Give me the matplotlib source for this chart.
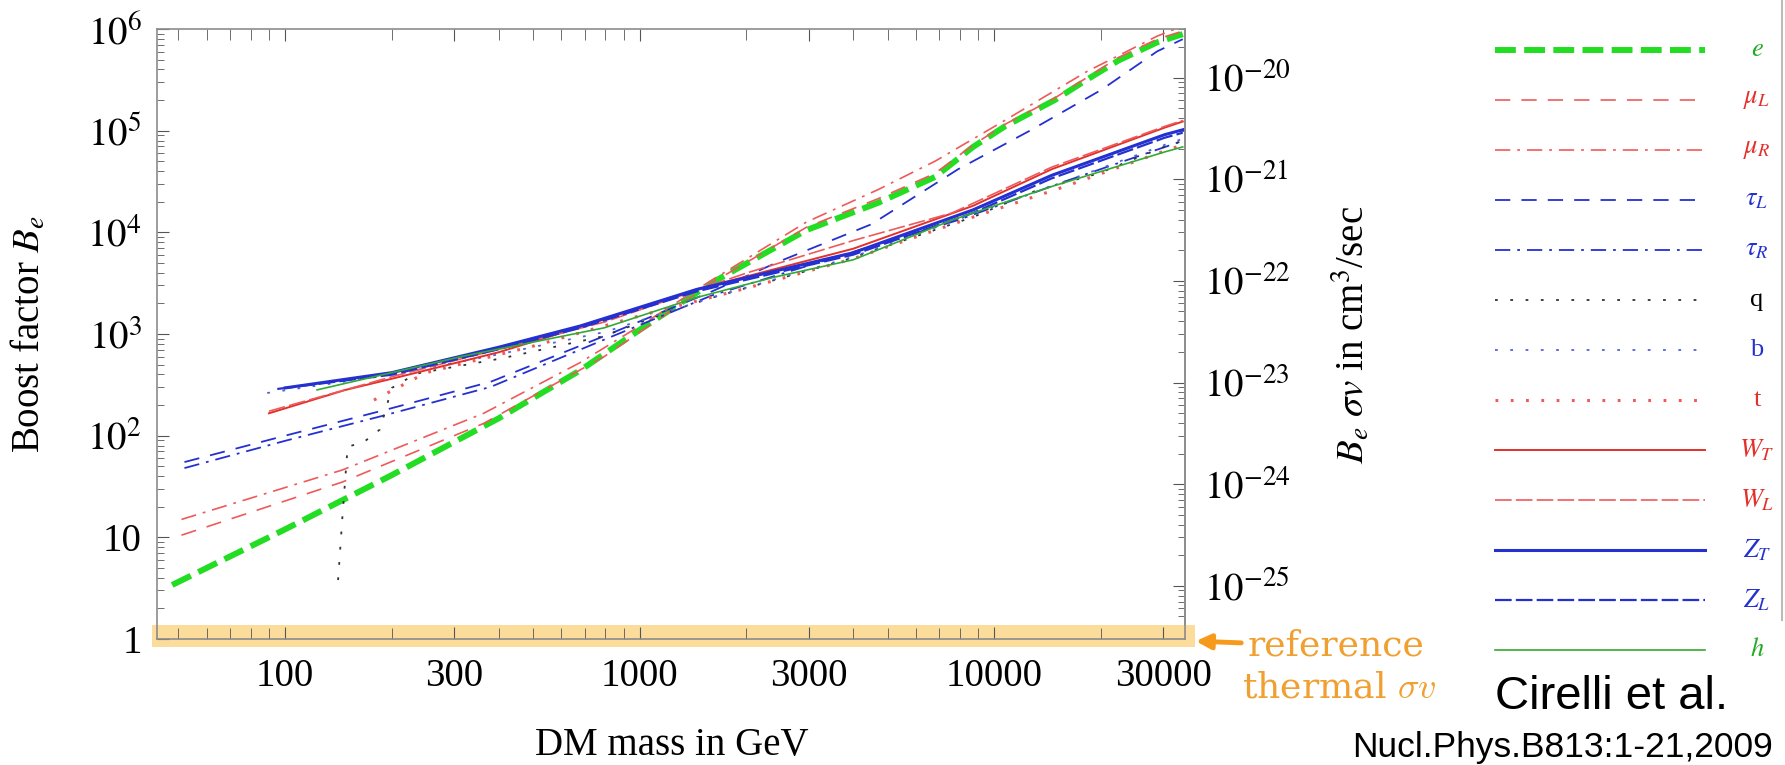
import matplotlib
matplotlib.use("Agg")
import matplotlib.pyplot as plt
from matplotlib.lines import Line2D
from matplotlib.ticker import NullFormatter

plt.rcParams['font.family'] = ['Liberation Serif', 'DejaVu Serif']
plt.rcParams['mathtext.fontset'] = 'stix'
plt.rcParams['lines.scale_dashes'] = False

# DM mass (GeV) and boost factor B_e
e_m = [48, 100, 200, 400, 680, 1000, 1600, 2950, 4700, 6800, 8700, 10700, 14800, 18200, 22400, 28800, 34000]
e_b = [3.4, 12, 41, 148, 440, 1100, 3200, 10500, 19500, 35000, 69000, 110000, 200000, 316000, 490000, 740000, 890000]

muL_m = [51, 145, 363, 794, 1600, 2950, 4700, 6800, 8700, 10700, 14800, 18200, 22400, 28800, 34000]
muL_b = [10.5, 35, 132, 600, 3200, 11200, 21400, 38000, 72000, 115000, 209000, 331000, 525000, 794000, 955000]

muR_m = [51, 145, 363, 680, 1000, 1600, 2950, 4700, 6800, 10700, 18200, 28800, 34000]
muR_b = [15, 46, 166, 525, 1200, 3400, 12600, 26300, 50000, 126000, 380000, 851000, 1070000]

tauL_m = [52, 100, 190, 380, 850, 1600, 2500, 4500, 7900, 12600, 20000, 28800, 34000]
tauL_b = [55, 100, 178, 339, 1050, 2630, 5250, 12000, 41700, 100000, 251000, 603000, 794000]

tauR_m = [52, 100, 190, 380, 800, 1600, 3160, 7900, 15800, 34000]
tauR_b = [48, 89, 158, 302, 890, 2400, 5000, 13200, 31600, 79400]

q_m = [141, 145, 150, 167, 185, 200, 234, 407, 794, 1210, 1610, 2820, 3830, 8690, 13100, 19700, 30100, 34000]
q_b = [3.8, 15.8, 77.6, 87.1, 115, 295, 407, 575, 955, 1660, 2290, 3980, 5370, 14100, 25700, 38000, 69200, 79400]

b_m = [89, 200, 400, 800, 1600, 4000, 8700, 15800, 30200, 34000]
b_b = [263, 398, 631, 1050, 2290, 5750, 15100, 31600, 72400, 83200]

t_m = [178, 250, 500, 1000, 2000, 4000, 8700, 15800, 30200, 34000]
t_b = [224, 417, 759, 1510, 2820, 5500, 14100, 28200, 63100, 72400]

WT_m = [90, 148, 200, 400, 680, 1450, 4000, 8700, 14500, 30200, 34000]
WT_b = [166, 282, 363, 661, 1170, 2750, 6900, 18200, 41700, 107000, 123000]

WL_m = [90, 200, 400, 800, 2000, 4000, 7600, 14500, 30200, 34000]
WL_b = [174, 380, 708, 1320, 3980, 8300, 15500, 43700, 110000, 126000]

ZT_m = [100, 200, 400, 680, 1450, 4000, 8700, 14500, 30200, 34000]
ZT_b = [295, 417, 741, 1200, 2750, 6300, 16600, 36300, 91200, 102000]

ZL_m = [95, 200, 400, 680, 1450, 4000, 8700, 14500, 30200, 34000]
ZL_b = [288, 398, 708, 1150, 2630, 6030, 15500, 33900, 85100, 95500]

h_m = [123, 316, 794, 1450, 2400, 4000, 7600, 14500, 30200, 34000]
h_b = [282, 603, 1150, 2290, 3630, 5370, 13200, 28200, 61700, 69200]

x_ticks = [100, 300, 1000, 3000, 10000, 30000]
x_minor = [50, 60, 70, 80, 90, 200, 400, 500, 600, 700, 800, 900,
           2000, 4000, 5000, 6000, 7000, 8000, 9000, 20000]
y_ticks = [1, 10, 1e2, 1e3, 1e4, 1e5, 1e6]
y_labels = ['1', '10', '$10^2$', '$10^3$', '$10^4$', '$10^5$', '$10^6$']
sv_ticks = [1e-25, 1e-24, 1e-23, 1e-22, 1e-21, 1e-20]
sv_labels = ['$10^{-25}$', '$10^{-24}$', '$10^{-23}$', '$10^{-22}$', '$10^{-21}$', '$10^{-20}$']
sigma_v = 3e-26

W, H = 1785, 765


def fx(x):
    return x / W


def fy(y):
    return 1 - y / H


red = '#e3302b'
pink = '#ee5a5a'
blue = '#2430d0'
series = [
    ('$e$', e_m, e_b, dict(color='#22dd22', lw=4.3, dashes=(15, 6)), '#22aa22'),
    ('$\\mu_L$', muL_m, muL_b, dict(color=pink, lw=1.2, dashes=(11, 8)), red),
    ('$\\mu_R$', muR_m, muR_b, dict(color=pink, lw=1.2, dashes=(11, 5, 2, 5)), red),
    ('$\\tau_L$', tauL_m, tauL_b, dict(color=blue, lw=1.3, dashes=(11, 8)), blue),
    ('$\\tau_R$', tauR_m, tauR_b, dict(color=blue, lw=1.3, dashes=(11, 5, 2, 5)), blue),
    ('q', q_m, q_b, dict(color='#333333', lw=1.3, dashes=(2, 9)), 'black'),
    ('b', b_m, b_b, dict(color='#5560dd', lw=1.3, dashes=(2, 9)), blue),
    ('t', t_m, t_b, dict(color=pink, lw=2.2, dashes=(2, 9)), red),
    ('$W_T$', WT_m, WT_b, dict(color=red, lw=1.4), red),
    ('$W_L$', WL_m, WL_b, dict(color=pink, lw=1.2, dashes=(12, 3)), red),
    ('$Z_T$', ZT_m, ZT_b, dict(color=blue, lw=2.2), blue),
    ('$Z_L$', ZL_m, ZL_b, dict(color=blue, lw=1.6, dashes=(12, 3)), blue),
    ('$h$', h_m, h_b, dict(color='#33aa33', lw=1.2), '#22aa22'),
]

fig = plt.figure(figsize=(W / 100, H / 100), dpi=100)
ax = fig.add_axes([fx(157), fy(639), fx(1185) - fx(157), fy(29) - fy(639)])
ax.set_xscale('log')
ax.set_yscale('log')
ax.set_xlim(43.5, 34500)
ax.set_ylim(1, 1e6)

for name, m, bst, style, _ in series:
    ax.plot(m, bst, **style)

# thermal cross section band at B = 1
ax.axhspan(10 ** -0.08, 10 ** 0.138, xmin=-0.005, xmax=1.01, color='#fbdc9b',
           lw=0, clip_on=False, zorder=0.5)

ax.set_xticks(x_ticks, [str(v) for v in x_ticks])
ax.set_xticks(x_minor, minor=True)
ax.xaxis.set_minor_formatter(NullFormatter())
ax.set_yticks(y_ticks, y_labels)
ax.yaxis.set_minor_formatter(NullFormatter())
ax.tick_params(which='both', direction='in', top=True, right=False,
               color='#555555', labelsize=28)
ax.tick_params(axis='x', which='major', length=8.5, pad=14)
ax.tick_params(axis='x', which='minor', length=8)
ax.tick_params(axis='y', which='major', length=8.5, pad=11)
ax.tick_params(axis='y', which='minor', length=5)
for sp in ax.spines.values():
    sp.set_color('#8c8c8c')
    sp.set_linewidth(1.2)

sec = ax.secondary_yaxis('right', functions=(lambda v: v * sigma_v, lambda v: v / sigma_v))
sec.set_yticks(sv_ticks, sv_labels)
sec.yaxis.set_minor_formatter(NullFormatter())
sec.tick_params(which='both', direction='in', color='#555555', labelsize=28)
sec.tick_params(which='major', length=8.5, pad=14)
sec.tick_params(which='minor', length=5)
sec.spines['right'].set_color('#8c8c8c')
sec.spines['right'].set_linewidth(1.2)

fig.text(fx(672), fy(746), 'DM mass in GeV', size=28, ha='center', va='center')
fig.text(fx(30), fy(334), 'Boost factor $B_e$', size=28, rotation=90,
         ha='center', va='center')
fig.text(fx(1352), fy(335), '$B_e\\ \\sigma v$ in cm$^3$/sec', size=28, rotation=90,
         ha='center', va='center')

# legend
lax = fig.add_axes([fx(1480), 0, fx(1785) - fx(1480), 1])
lax.set_xlim(1480, 1785)
lax.set_ylim(H, 0)
lax.axis('off')
for i, (name, _, _, style, tcol) in enumerate(series):
    y = 50 + 50 * i
    lax.plot([1495, 1705], [y, y], **style)
    lax.text(1757, y, name, color=tcol, size=19, ha='center', va='center')

orange = '#f0a030'
ax.annotate('', xy=(fx(1193), fy(641)), xytext=(fx(1244), fy(643)),
            xycoords='figure fraction', textcoords='figure fraction',
            annotation_clip=False,
            arrowprops=dict(arrowstyle='-|>', color='#f59a1a', lw=3.5, mutation_scale=22))
fig.text(fx(1248), fy(645), 'reference', family='DejaVu Serif', size=26,
         color=orange, va='center')
fig.text(fx(1242), fy(688), 'thermal $\\sigma v$', family='DejaVu Serif', size=26,
         color=orange, va='center', math_fontfamily='cm')
fig.text(fx(1495), fy(697), 'Cirelli et al.', family='Liberation Sans', size=34,
         va='center')
fig.text(fx(1352), fy(757), 'Nucl.Phys.B813:1-21,2009', family='Liberation Sans', size=25.5,
         va='baseline')
fig.add_artist(Line2D([fx(1782), fx(1782)], [1, fy(620)], color='#bbbbbb', lw=1.5))

fig.savefig('out.png', dpi=100)
